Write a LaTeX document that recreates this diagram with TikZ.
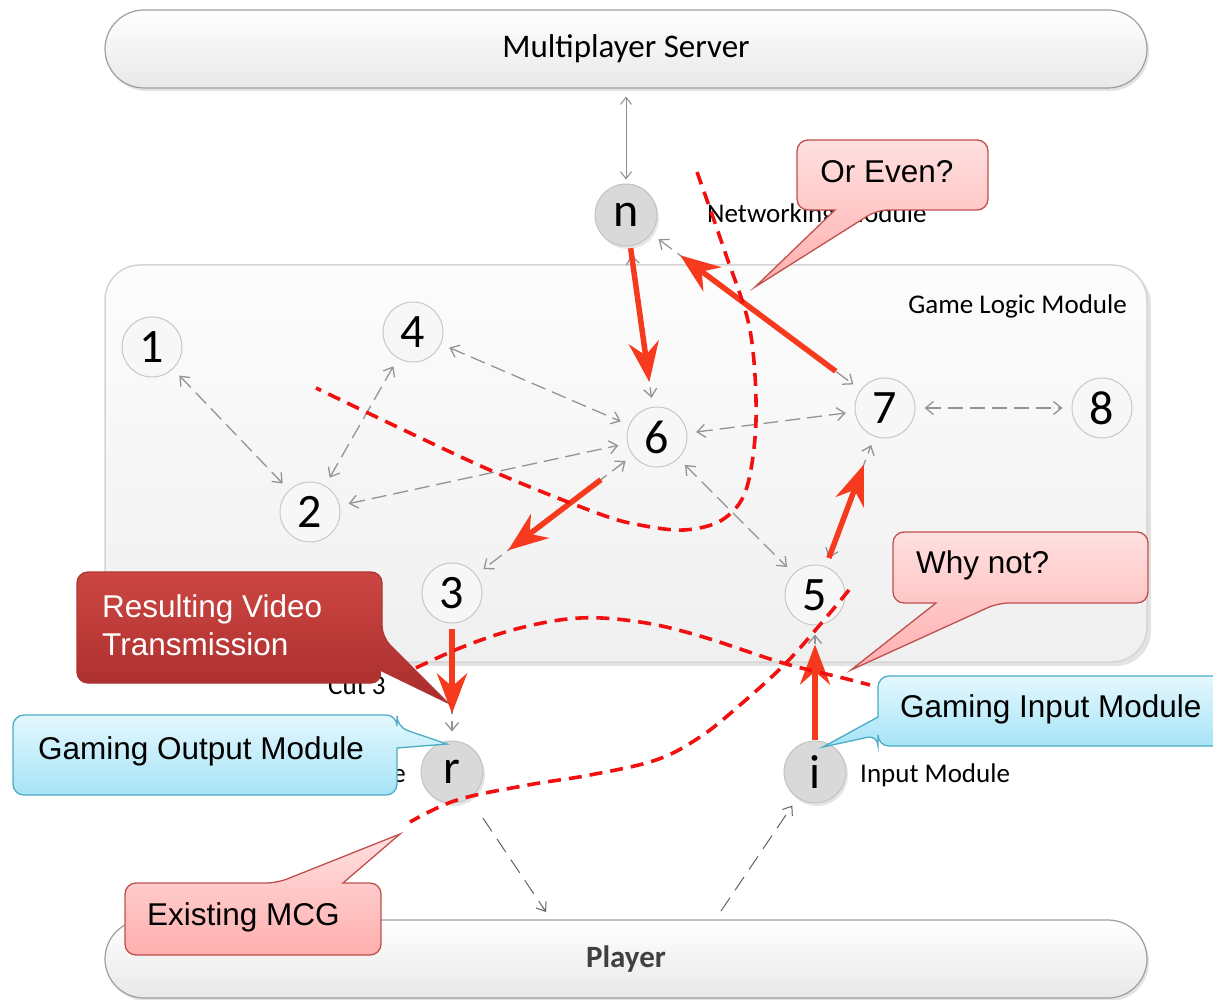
\documentclass[tikz,border=0pt]{standalone}
\usepackage{fontspec}
\setmainfont{Carlito}
\newfontfamily\calloutfont{Liberation Sans}
\usetikzlibrary{arrows.meta,shadows}

\definecolor{cutred}{HTML}{F01010}
\definecolor{hotred}{HTML}{F53A1E}
\definecolor{pinkedge}{HTML}{C0504D}
\definecolor{pinktop}{HTML}{FFE0E0}
\definecolor{pinkbot}{HTML}{FFAEAE}
\definecolor{darktop}{HTML}{CC4642}
\definecolor{darkbot}{HTML}{A82D2D}
\definecolor{darkedge}{HTML}{B03434}
\definecolor{bluetop}{HTML}{E4F8FE}
\definecolor{bluebot}{HTML}{A6E3F7}
\definecolor{blueedge}{HTML}{4BACC6}

\begin{document}
\begin{tikzpicture}[x=1pt,y=-1pt,
  pill/.style={rectangle, rounded corners=39pt, minimum width=1042pt, minimum height=78pt,
    draw=black!38, line width=1.2pt, top color=white, bottom color=black!9,
    drop shadow={shadow xshift=2pt, shadow yshift=-3pt, opacity=0.22}},
  logicbox/.style={rectangle, rounded corners=35pt, minimum width=1042pt, minimum height=397pt,
    draw=black!17, line width=1.5pt, top color=black!1, bottom color=black!6,
    drop shadow={shadow xshift=4pt, shadow yshift=-4pt, opacity=0.22}},
  modnode/.style={circle, minimum size=60pt, inner sep=0pt, draw=black!22, line width=1pt,
    fill=black!3, font=\fontsize{48}{48}\selectfont},
  ionode/.style={modnode, minimum size=62pt, fill=black!15, draw=black!24,
    drop shadow={shadow xshift=2pt, shadow yshift=-3pt, opacity=0.2}},
  lbl/.style={inner sep=0pt, font=\fontsize{27}{30}\selectfont},
  link/.style={draw=black!42, line width=1.3pt, dash pattern=on 15pt off 7pt,
    {Straight Barb[length=8pt,width=13pt]}-{Straight Barb[length=8pt,width=13pt]},
    shorten >=9pt, shorten <=9pt},
  onelink/.style={link, -{Straight Barb[length=8pt,width=13pt]}},
  feed/.style={draw=black!62, line width=1pt, dash pattern=on 16pt off 9pt,
    -{Straight Barb[length=8pt,width=12pt]}},
  hot/.style={draw=hotred, line width=5.5pt, -{Stealth[length=40pt,width=30pt,inset=13pt]}},
  cut/.style={draw=cutred, line width=3.6pt, dash pattern=on 13pt off 8pt},
  pinkcall/.style={draw=pinkedge, line width=1.3pt, top color=pinktop, bottom color=pinkbot, rounded corners=11pt},
  darkcall/.style={draw=darkedge, line width=1.3pt, top color=darktop, bottom color=darkbot, rounded corners=11pt},
  bluecall/.style={draw=blueedge, line width=1.3pt, top color=bluetop, bottom color=bluebot, rounded corners=11pt},
  calltext/.style={inner sep=0pt, font=\calloutfont\fontsize{31.5}{38}\selectfont}
]
\useasboundingbox (0,0) rectangle (1213,1000);

% containers
\node[pill, font=\fontsize{33}{34}\selectfont] (server) at (626,49) {Multiplayer Server};
\node[pill, font=\bfseries\fontsize{31}{34}\selectfont, text=black!75] (player) at (626,959) {Player};
\node[logicbox] (logic) at (626,463.5) {};
\node[lbl, anchor=east] (logiclbl) at (1127,306) {Game Logic Module};

% modules
\node[ionode] (n) at (626,215) {n};
\node[modnode] (m1) at (152,347) {1};
\node[modnode] (m4) at (413,332) {4};
\node[modnode] (m2) at (310,512) {2};
\node[modnode] (m6) at (657,437) {6};
\node[modnode] (m7) at (885,408) {7};
\node[modnode] (m8) at (1102,408) {8};
\node[modnode] (m3) at (452,593) {3};
\node[modnode] (m5) at (815,595) {5};
\node[ionode] (r) at (452,772) {r};
\node[ionode] (i) at (815,772) {i};

\node[lbl, anchor=west] (netlbl) at (707,215) {Networking Module};
\node[lbl, anchor=west] (inlbl) at (860,775) {Input Module};
\node[lbl, anchor=east] (outlbl) at (406,775) {Output Module};
\node[lbl, anchor=west] (cutlbl) at (328,686) {Cut 3};

% data flow between modules
\draw[draw=black!45, line width=1pt, {Straight Barb[length=7pt,width=11pt]}-{Straight Barb[length=7pt,width=11pt]},
  shorten <=8pt, shorten >=4pt] (server) -- (n);
\draw[link] (m1) -- (m2);
\draw[link] (m4) -- (m2);
\draw[link] (m4) -- (m6);
\draw[link] (m2) -- (m6);
\draw[link] (m6) -- (m7);
\draw[link] (m7) -- (m8);
\draw[link] (m6) -- (m5);
\draw[link] (m6) -- (m3);
\draw[link] (m5) -- (m7);
\draw[link] (n) -- (m6);
\draw[link] (n) -- (m7);
\draw[onelink] (m3) -- (r);
\draw[onelink] (i) -- (m5);

\coordinate (pin) at (546,912);
\coordinate (pout) at (721,911);
\draw[feed, shorten <=24pt] (r) -- (pin);
\draw[feed, shorten >=9pt] (pout) -- (i);

% highlighted flow
\draw[hot, shorten <=2pt, shorten >=25pt] (n) -- (m6);
\draw[hot, shorten <=31pt, shorten >=36pt] (m7) -- (n);
\draw[hot, shorten <=40pt, shorten >=40pt] (m6) -- (m3);
\draw[hot, shorten <=9pt, shorten >=30pt] (m5) -- (m7);
\draw[hot, shorten <=5pt, shorten >=27pt] (m3) -- (r);
\draw[hot, shorten <=1pt, shorten >=19pt] (i) -- (m5);

% cuts
\draw[cut] plot[smooth, tension=0.55] coordinates {(697,172) (725,252) (750,330) (756,420) (746,490) (722,520) (684,530) (640,525) (597,513) (483,467) (316,388)};
\draw[cut] plot[smooth, tension=0.6] coordinates {(397,677) (460,648) (520,628) (580,618) (640,622) (700,636) (783,663) (843,678) (870,685)};
\draw[cut] plot[smooth, tension=0.6] coordinates {(849,590) (824,620) (786,663) (740,705) (700,737) (656,760) (590,775) (528,785) (457,800) (410,822)};

% callouts
\path[pinkcall] (892,140) -- (988,140) -- (988,210) -- (877,210) [sharp corners] -- (755,287) -- (835,210) [rounded corners=11pt] -- (797,210) -- (797,140) -- cycle;
\node[calltext] (oreven) at (887,172) {Or Even?};

\path[pinkcall] (1020,532) -- (1148,532) -- (1148,603) -- (998,603) [sharp corners] -- (851,670) -- (936,603) [rounded corners=11pt] -- (893,603) -- (893,532) -- cycle;
\node[calltext, anchor=west] (whynot) at (916,565) {Why not?};

\path[darkcall] (230,572) -- (382,572) -- (382,637) [sharp corners] -- (448,703) -- (380,670) [rounded corners=11pt] -- (382,683) -- (77,683) -- (77,572) -- cycle;
\node[calltext, anchor=north west, text=white, align=left] (video) at (102,594) {Resulting Video\\Transmission};

\path[bluecall] (200,715) -- (397,715) -- (397,727) [sharp corners] -- (447,744) -- (397,748) [rounded corners=11pt] -- (397,795) -- (13,795) -- (13,715) -- cycle;
\node[calltext] (gout) at (201,751) {Gaming Output Module};

\path[bluecall] (1050,676) -- (1240,676) -- (1240,746) -- (878,746) -- (878,735) [sharp corners] -- (823,747) -- (878,717) [rounded corners=11pt] -- (878,676) -- cycle;
\node[calltext, anchor=west] (gin) at (900,709) {Gaming Input Module};

\path[pinkcall] (125,920) -- (125,883) -- (277,883) [sharp corners] -- (400,834) -- (343,883) [rounded corners=11pt] -- (381,883) -- (381,955) -- (125,955) -- cycle;
\node[calltext, anchor=west] (mcg) at (147,917) {Existing MCG};
\end{tikzpicture}
\end{document}
